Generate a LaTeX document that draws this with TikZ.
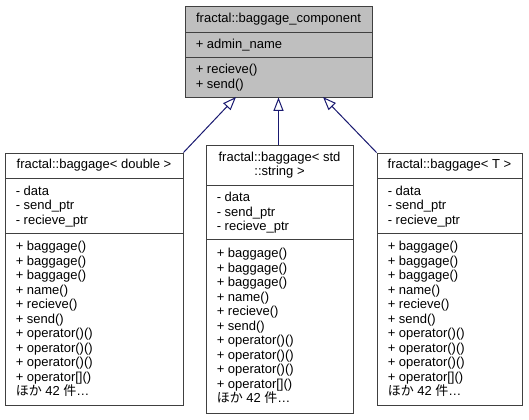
\documentclass[tikz,border=0pt]{standalone}
\usepackage{fontspec}
\setmainfont{Liberation Sans}
\newfontfamily\jpfont{Noto Sans CJK JP}
\usepackage{xcolor}
\usepackage{tikz}
\usetikzlibrary{arrows.meta,fit,calc}
\definecolor{edge}{HTML}{191970}
\definecolor{frame}{HTML}{404040}
\definecolor{basefill}{HTML}{BFBFBF}
\tikzset{
  cls/.style={draw=frame, fill=white, line width=0.75pt, inner sep=0pt},
  basecls/.style={cls, fill=basefill},
  sep/.style={draw=frame, line width=0.75pt},
  ttl/.style={inner sep=0pt, align=center, font=\fontsize{9.75}{10.875}\selectfont},
  mem/.style={inner sep=0pt, align=left, anchor=north west, font=\fontsize{9.75}{10.875}\selectfont},
  inh/.style={draw=edge, line width=0.75pt, -{Triangle[open, length=10pt, width=7.5pt]}}
}
\newcommand{\bagattrs}{\strut- data\\- send\_ptr\\- recieve\_ptr}
\newcommand{\bagmethods}{\strut+ baggage()\\+ baggage()\\+ baggage()\\+ name()\\+ recieve()\\+ send()\\+ operator()()\\+ operator()()\\+ operator()()\\+ operator[]()\\{\jpfont ほか} 42 {\jpfont 件}…}

\begin{document}
\begin{tikzpicture}[x=0.75pt, y=-0.75pt]
  \path[use as bounding box, fill=white] (0,0) rectangle (529,419);

  % base class, px coordinates, y grows downwards
  \node[basecls, fit={(185,6) (372,97)}] (base) {};
  \draw[sep] (185,32) -- (372,32);
  \draw[sep] (185,57) -- (372,57);
  \node[ttl] (basettl) at (278.5,19) {fractal::baggage\_component};
  \node[mem] (baseattr) at (195.5,38.25) {\strut+ admin\_name};
  \node[mem] (basemeth) at (195.5,63.5) {\strut+ recieve()\\+ send()};

  % baggage< double >
  \node[cls, fit={(5,153) (183,405)}] (dbl) {};
  \draw[sep] (5,178) -- (183,178);
  \draw[sep] (5,233) -- (183,233);
  \node[ttl] (dblttl) at (94,165.5) {fractal::baggage< double >};
  \node[mem] (dblattr) at (15.5,184.75) {\bagattrs};
  \node[mem] (dblmeth) at (15.5,240.25) {\bagmethods};

  % baggage< std::string >
  \node[cls, fit={(206,145) (353,413)}] (str) {};
  \draw[sep] (206,185) -- (353,185);
  \draw[sep] (206,239) -- (353,239);
  \node[ttl] (strttl) at (279.5,165) {fractal::baggage< std\\::string >};
  \node[mem] (strattr) at (216.5,191.25) {\bagattrs};
  \node[mem] (strmeth) at (216.5,247.25) {\bagmethods};

  % baggage< T >
  \node[cls, fit={(377,153) (522,405)}] (tpl) {};
  \draw[sep] (377,178) -- (522,178);
  \draw[sep] (377,233) -- (522,233);
  \node[ttl] (tplttl) at (449.5,165.5) {fractal::baggage< T >};
  \node[mem] (tplattr) at (387.5,184.75) {\bagattrs};
  \node[mem] (tplmeth) at (387.5,240.25) {\bagmethods};

  % inheritance
  \coordinate (tipdbl) at (236,97);
  \coordinate (tiptpl) at (323,97);
  \draw[inh] (dbl.north east) -- (tipdbl);
  \draw[inh] (str.north -| base.south) -- (base.south);
  \draw[inh] (tpl.north west) -- (tiptpl);
\end{tikzpicture}
\end{document}
